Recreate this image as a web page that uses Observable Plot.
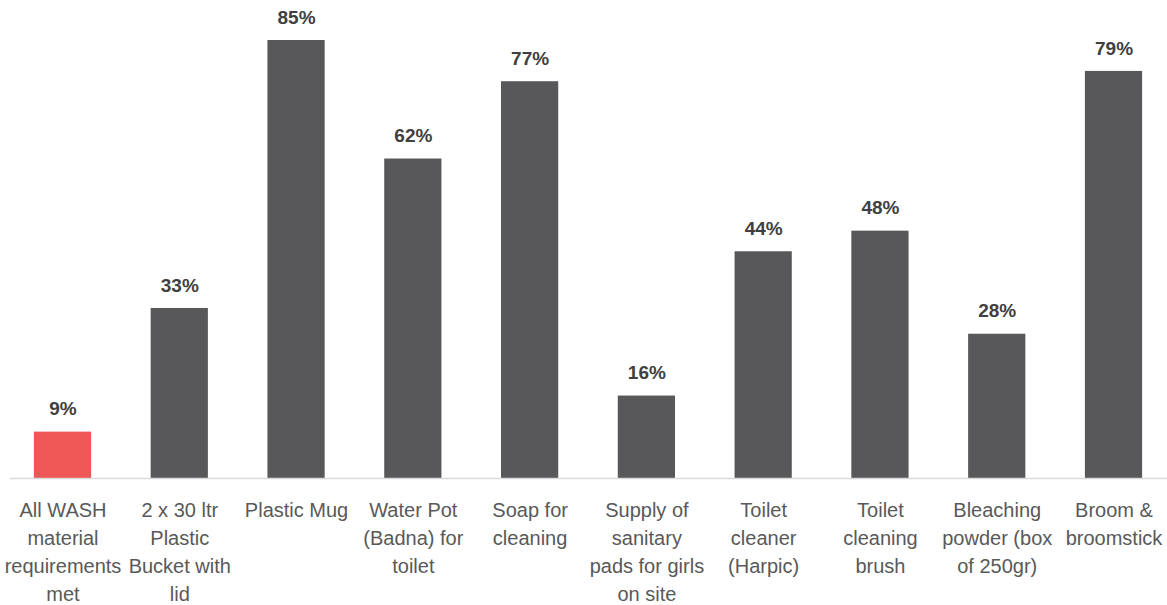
<!DOCTYPE html>
<html>
<head>
<meta charset="utf-8">
<script src="https://cdn.jsdelivr.net/npm/d3@7"></script>
<script src="https://cdn.jsdelivr.net/npm/@observablehq/plot@0.6"></script>
<style>
  html, body { margin: 0; padding: 0; background: #fff; }
  #chart svg { display: block; }
</style>
</head>
<body>
<div id="chart"></div>
<script>
const categories = [
  "All WASH\nmaterial\nrequirements\nmet",
  "2 x 30 ltr\nPlastic\nBucket with\nlid",
  "Plastic Mug",
  "Water Pot\n(Badna) for\ntoilet",
  "Soap for\ncleaning",
  "Supply of\nsanitary\npads for girls\non site",
  "Toilet\ncleaner\n(Harpic)",
  "Toilet\ncleaning\nbrush",
  "Bleaching\npowder (box\nof 250gr)",
  "Broom &\nbroomstick"
];
const values = [9, 33, 85, 62, 77, 16, 44, 48, 28, 79];
const highlight = [true, false, false, false, false, false, false, false, false, false];

const data = categories.map((c, i) => ({cat: c, value: values[i], hi: highlight[i]}));

const chart = Plot.plot({
  width: 1167,
  height: 605,
  marginLeft: 10,
  marginRight: 0,
  marginTop: 0,
  marginBottom: 0,
  style: {fontFamily: "'Liberation Sans', Arial, sans-serif", background: "#fff"},
  x: {type: "band", domain: categories, range: [4.1, 1171.9], paddingInner: 0.51, paddingOuter: 0.255, round: false, axis: null},
  y: {domain: [0, 85], range: [478, 40], axis: null},
  marks: [
    Plot.barY(data, {x: "cat", y: "value", fill: d => d.hi ? "#EF5656" : "#58585A"}),
    Plot.ruleY([0], {stroke: "#d9d9d9", strokeWidth: 1.5}),
    Plot.text(data, {x: "cat", y: "value", text: d => d.value + "%", dy: -23, fontSize: 19, fontWeight: "bold", fill: "#404040"}),
    Plot.text(data, {x: "cat", y: () => 0, text: "cat", dy: 19, lineAnchor: "top", lineHeight: 1.4, fontSize: 20, fill: "#595959"})
  ]
});
document.getElementById("chart").appendChild(chart);
</script>
</body>
</html>
